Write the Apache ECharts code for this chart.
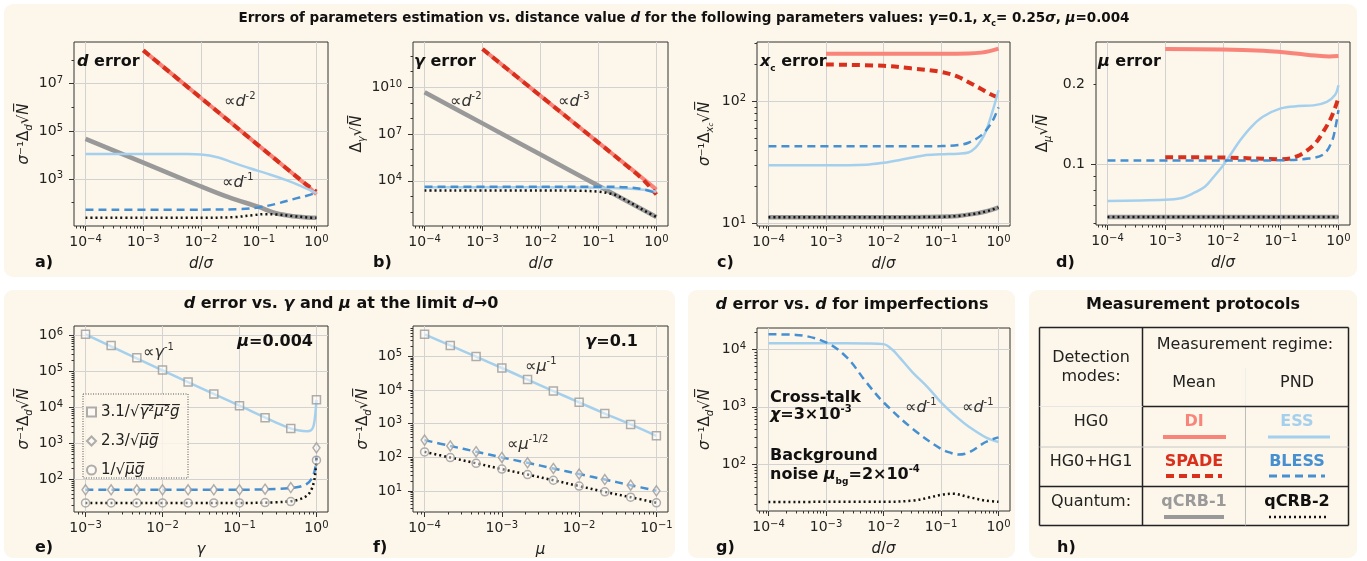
<!DOCTYPE html>
<html>
<head>
<meta charset="utf-8">
<script src="https://cdn.jsdelivr.net/npm/echarts@6/dist/echarts.min.js"></script>
<style>
html, body { margin: 0; padding: 0; background: #fff; }
#main { width: 1367px; height: 561px; }
</style>
</head>
<body>
<div id="main"></div>
<script>
// ---- values ----
// a) d error vs d/sigma
var aDI_x = [1e-3, 1e-2, 0.1, 0.3, 0.5, 0.7, 1];
var aDI_y = [2.5e8, 2.5e6, 2.5e4, 2800, 1000, 500, 224];
var aSPADE_y = [2.5e8, 2.5e6, 2.5e4, 2800, 1020, 530, 290];
var aQ1_x = [1e-4, 1e-3, 1e-2, 3e-2, 0.1, 0.2, 0.4, 0.7, 1];
var aQ1_y = [4.8e4, 4.8e3, 480, 170, 66, 36, 27, 24, 23];
var aQ2_x = [1e-4, 1e-2, 0.04, 0.08, 0.13, 0.2, 0.4, 0.7, 1];
var aQ2_y = [23, 23, 25, 30, 33, 32, 27, 24, 23];
var aESS_x = [1e-4, 1e-3, 5e-3, 1e-2, 2e-2, 0.036, 0.07, 0.14, 0.3, 0.53, 1];
var aESS_y = [11200, 11200, 11000, 10500, 7900, 4800, 2800, 1660, 890, 510, 250];
var aBLESS_x = [1e-4, 1e-2, 0.05, 0.1, 0.2, 0.4, 0.7, 1];
var aBLESS_y = [51, 51, 54, 63, 89, 141, 200, 263];

// b) gamma error
var bDI_x = [1e-3, 1e-2, 0.1, 0.3, 0.6, 1];
var bDI_y = [2.8e12, 2.8e9, 2.8e6, 1.05e5, 1.3e4, 2700];
var bSPADE_y = [2.8e12, 2.8e9, 2.8e6, 1.0e5, 1.1e4, 1300];
var bQ1_x = [1e-4, 1e-3, 1e-2, 0.1, 1];
var bQ1_y = [4.8e9, 4.8e7, 4.8e5, 4800, 48];
var bQ2_x = [1e-4, 1e-2, 0.05, 0.1, 0.15, 0.2, 0.3, 0.5, 0.7, 1];
var bQ2_y = [2400, 2400, 2290, 2000, 1580, 1200, 560, 190, 95, 48];
var bBL_x = [1e-4, 1e-2, 0.1, 0.3, 0.6, 1];
var bESS_y = [3800, 3800, 3630, 3160, 2630, 2000];
var bBLESS_y = [4170, 4170, 4170, 3800, 2820, 1580];

// c) x_c error
var cDI_x = [1e-3, 1e-2, 0.1, 0.3, 0.5, 0.7, 1];
var cDI_y = [245, 245, 245, 246, 250, 257, 270];
var cSPADE_x = [1e-3, 1e-2, 0.03, 0.1, 0.2, 0.32, 0.5, 0.7, 1];
var cSPADE_y = [200, 195, 186, 174, 158, 141, 126, 115, 107];
var cESS_x = [1e-4, 1e-3, 5e-3, 1e-2, 2e-2, 5e-2, 0.1, 0.2, 0.3, 0.4, 0.5, 0.6, 0.7, 0.85, 1];
var cESS_y = [29.9, 29.9, 30.2, 31.3, 33.1, 36.0, 36.7, 37.2, 38.0, 41.7, 47.9, 56.2, 69.2, 93.3, 123];
var cBLESS_x = [1e-4, 0.01, 0.1, 0.2, 0.3, 0.5, 0.7, 0.85, 1];
var cBLESS_y = [42.7, 42.7, 42.9, 43.7, 45.7, 52.5, 63.1, 74.1, 89.1];
var cQ_x = [1e-4, 0.01, 0.1, 0.2, 0.4, 0.6, 0.8, 1];
var cQ_y = [11.2, 11.2, 11.3, 11.5, 12.0, 12.5, 13.0, 13.5];

// d) mu error
var dDI_x = [1e-3, 1e-2, 0.05, 0.1, 0.2, 0.4, 0.7, 1];
var dDI_y = [0.272, 0.271, 0.268, 0.265, 0.261, 0.257, 0.255, 0.256];
var dESS_x = [1e-4, 1e-3, 1.85e-3, 2.9e-3, 4.9e-3, 6.6e-3, 9.7e-3, 0.014, 0.02, 0.031, 0.049, 0.1, 0.2, 0.37, 0.63, 0.87, 1];
var dESS_y = [0.0727, 0.0734, 0.0744, 0.0773, 0.0824, 0.0886, 0.098, 0.110, 0.1234, 0.1384, 0.151, 0.1624, 0.1657, 0.1667, 0.172, 0.1823, 0.1987];
var dSPADE_x = [1e-3, 1e-2, 0.1, 0.19, 0.37, 0.55, 0.77, 1];
var dSPADE_y = [0.1062, 0.106, 0.1045, 0.107, 0.118, 0.133, 0.152, 0.178];
var dBLESS_x = [1e-4, 1e-2, 0.1, 0.3, 0.55, 0.77, 0.9, 1];
var dBLESS_y = [0.1032, 0.1032, 0.1035, 0.105, 0.109, 0.122, 0.14, 0.16];
var dQ_x = [1e-4, 1];
var dQ_y = [0.0633, 0.0633];

// e) d error vs gamma, mu = 0.004
var eGam = [0.001, 0.00215, 0.00464, 0.01, 0.0215, 0.0464, 0.1, 0.215, 0.464, 1];
var eSq = [1.07e6, 5.2e5, 2.4e5, 1.1e5, 5.1e4, 2.35e4, 1.12e4, 5.2e3, 2.6e3, 1.64e4];
var eDia = [52, 52, 52, 52, 52, 52, 52, 54, 60, 760];
var eCirc = [22.4, 22.4, 22.4, 22.4, 22.4, 22.4, 22.4, 23, 24.5, 345];
var eESS_x = [1e-3, 1e-2, 0.1, 0.3, 0.46, 0.6, 0.75, 0.85, 0.92, 0.97, 1];
var eESS_y = [1.07e6, 1.07e5, 1.12e4, 3800, 2630, 2290, 2190, 2340, 3160, 7080, 16200];
var eBLESS_x = [1e-3, 0.1, 0.3, 0.46, 0.6, 0.75, 0.85, 0.95, 1];
var eBLESS_y = [52, 52, 55, 58, 63, 76, 100, 178, 447];
var eQ2_x = [1e-3, 0.1, 0.3, 0.46, 0.6, 0.75, 0.85, 0.93, 0.98, 1];
var eQ2_y = [22.4, 22.4, 23.4, 25.1, 28.2, 35.5, 50, 89, 200, 400];

// f) d error vs mu, gamma = 0.1
var fMu = [1e-4, 2.15e-4, 4.64e-4, 1e-3, 2.15e-3, 4.64e-3, 1e-2, 2.15e-2, 4.64e-2, 0.1];
var fSq = [4.5e5, 2.1e5, 9.8e4, 4.5e4, 2.05e4, 9.3e3, 4.3e3, 2.0e3, 955, 437];
var fDia = [326, 219, 148, 100, 69, 47, 32, 22, 15, 10.2];
var fCirc = [146, 99, 67, 45, 31, 21, 14.1, 9.5, 6.6, 4.5];

// g) imperfections
var gESS_x = [1e-4, 1e-3, 5e-3, 1e-2, 0.014, 0.019, 0.032, 0.06, 0.1, 0.2, 0.31, 0.6, 1];
var gESS_y = [12700, 12700, 12600, 12300, 10000, 7240, 3980, 2140, 1200, 630, 447, 295, 245];
var gBLESS_x = [1e-4, 3e-4, 1e-3, 2.3e-3, 5e-3, 1e-2, 0.032, 0.1, 0.15, 0.2, 0.31, 0.6, 1];
var gBLESS_y = [18200, 17800, 13200, 7240, 2690, 1200, 417, 186, 158, 148, 162, 245, 295];
var gQ2_x = [1e-4, 1e-2, 0.032, 0.06, 0.1, 0.16, 0.31, 0.6, 1];
var gQ2_y = [22.3, 22.4, 23.4, 26.3, 29.5, 30.9, 26.9, 23.4, 22.4];

// tick labels
var decX4 = [1e-4, 1e-3, 1e-2, 1e-1, 1];
var legendNames = ['3.1/√(γ²μ²g)', '2.3/√(μg)', '1/√(μg)'];

var FONT = 'DejaVu Sans';
var myChart = echarts.init(document.getElementById('main'));

function pow10Label(v) {
    return '{b|10}{s|' + String(Math.round(Math.log10(v))).replace('-', '−') + '}';
}
function decades(a, b) { var r = []; for (var e = a; e <= b; e++) r.push(Math.pow(10, e)); return r; }
function minorLog(lo, hi) {
    var r = [];
    for (var e = Math.floor(lo) - 1; e <= Math.ceil(hi); e++) {
        for (var k = 2; k <= 9; k++) {
            var v = k * Math.pow(10, e), l = Math.log10(v);
            if (l > lo && l < hi) r.push(v);
        }
    }
    return r;
}
function zip(xs, ys) { return xs.map(function (x, i) { return [x, ys[i]]; }); }

var TICKRICH = {
    b: {fontFamily: FONT, fontSize: 14, lineHeight: 16, color: '#222'},
    s: {fontFamily: FONT, fontSize: 10, lineHeight: 9, verticalAlign: 'top', color: '#222'}
};
var AXRICH = {
    i: {fontFamily: FONT, fontStyle: 'italic', fontSize: 15, lineHeight: 20, color: '#222'},
    r: {fontFamily: FONT, fontSize: 15, lineHeight: 20, color: '#222'},
    sb: {fontFamily: FONT, fontStyle: 'italic', fontSize: 10, lineHeight: 10, verticalAlign: 'bottom', color: '#222'},
    ssb: {fontFamily: FONT, fontStyle: 'italic', fontSize: 7, lineHeight: 7, verticalAlign: 'bottom', color: '#222'}
};

// grids: a b c d / e f g
var grids = [
    {left: 74, top: 42, width: 254, height: 184},
    {left: 413, top: 42, width: 255, height: 184},
    {left: 757, top: 42, width: 253, height: 184},
    {left: 1096, top: 42, width: 254, height: 183},
    {left: 74, top: 326, width: 254, height: 186},
    {left: 413, top: 326, width: 255, height: 186},
    {left: 757, top: 328, width: 253, height: 183}
].map(function (g) {
    return Object.assign({show: true, borderColor: '#333', borderWidth: 1, backgroundColor: 'transparent',
        containLabel: false, outerBoundsMode: 'none'}, g);
});

var xAxes = [], yAxes = [];
function addAxis(list, dim, gi, lo, hi, major, labels, minor, name, gap, fmt) {
    var common = {type: 'log', logBase: 10, gridIndex: gi, min: Math.pow(10, lo), max: Math.pow(10, hi),
        position: dim === 'x' ? 'bottom' : 'left'};
    list.push(Object.assign({}, common, {
        axisLine: {show: false},
        axisTick: {show: true, customValues: major, length: 5, lineStyle: {color: '#333'}},
        axisLabel: {customValues: labels, formatter: fmt || pow10Label, fontFamily: FONT, fontSize: 14, color: '#222',
            margin: dim === 'x' ? 8 : 11, rich: TICKRICH},
        splitLine: {show: true, lineStyle: {color: '#d2d2d2', width: 1}},
        name: name, nameLocation: 'middle', nameGap: gap, nameRotate: dim === 'y' ? 90 : 0,
        nameTextStyle: {fontFamily: FONT, fontSize: 15, color: '#222', rich: AXRICH}
    }));
    list.push(Object.assign({}, common, {
        axisLine: {show: false},
        axisTick: {show: true, customValues: minor, length: 2.5, lineStyle: {color: '#333'}},
        axisLabel: {show: false},
        splitLine: {show: false}
    }));
}
var XN = '{i|d}{r|/}{i|σ}';
var YD = '{i|σ}{r|⁻¹Δ}{sb|d}{r|√}{i|N̅}';

// a
addAxis(xAxes, 'x', 0, -4.2, 0.2, decX4, decX4, minorLog(-4.2, 0.2), XN, 28);
addAxis(yAxes, 'y', 0, 1.02, 8.75, [1e1, 1e3, 1e5, 1e7], [1e3, 1e5, 1e7], [1e2, 1e4, 1e6, 1e8], YD, 40);
// b
addAxis(xAxes, 'x', 1, -4.2, 0.2, decX4, decX4, minorLog(-4.2, 0.2), XN, 28);
addAxis(yAxes, 'y', 1, 1.1, 12.9, [1e4, 1e7, 1e10], [1e4, 1e7, 1e10], [1e2, 1e3, 1e5, 1e6, 1e8, 1e9, 1e11, 1e12], '{r|Δ}{sb|γ}{r|√}{i|N̅}', 44);
// c
addAxis(xAxes, 'x', 2, -4.2, 0.2, decX4, decX4, minorLog(-4.2, 0.2), XN, 28);
addAxis(yAxes, 'y', 2, 0.978, 2.485, [10, 100], [10, 100], minorLog(0.978, 2.485), '{i|σ}{r|⁻¹Δ}{sb|x}{ssb|c}{r|√}{i|N̅}', 42);
// d
addAxis(xAxes, 'x', 3, -4.2, 0.2, decX4, decX4, minorLog(-4.2, 0.2), XN, 28);
addAxis(yAxes, 'y', 3, Math.log10(0.059), Math.log10(0.289), [0.1], [0.1, 0.2], minorLog(Math.log10(0.059), Math.log10(0.289)),
    '{r|Δ}{sb|μ}{r|√}{i|N̅}', 43, function (v) { return '{b|' + v.toFixed(1) + '}'; });
// e
addAxis(xAxes, 'x', 4, -3.15, 0.15, decades(-3, 0), decades(-3, 0), minorLog(-3.15, 0.15), '{i|γ}', 28);
addAxis(yAxes, 'y', 4, 1.1, 6.26, decades(2, 6), decades(2, 6), minorLog(1.1, 6.26), YD, 40);
// f
addAxis(xAxes, 'x', 5, -4.15, -0.85, decades(-4, -1), decades(-4, -1), minorLog(-4.15, -0.85), '{i|μ}', 28);
addAxis(yAxes, 'y', 5, 0.38, 5.9, decades(1, 5), decades(1, 5), minorLog(0.38, 5.9), YD, 40);
// g
addAxis(xAxes, 'x', 6, -4.2, 0.2, decX4, decX4, minorLog(-4.2, 0.2), XN, 28);
addAxis(yAxes, 'y', 6, 1.19, 4.37, decades(2, 4), decades(2, 4), minorLog(1.19, 4.37), YD, 42);

var ST = {
    DI: {color: '#f8847a', width: 4, type: 'solid'},
    SPADE: {color: '#d8301c', width: 4, type: [8, 5]},
    ESS: {color: '#a4d0ee', width: 2.5, type: 'solid'},
    BLESS: {color: '#4690d2', width: 2.5, type: [8, 5]},
    Q1: {color: '#999999', width: 4.5, type: 'solid'},
    Q2: {color: '#111111', width: 2.5, type: [2, 3]}
};
var series = [];
function line(gi, xs, ys, st, z) {
    series.push({type: 'line', xAxisIndex: 2 * gi, yAxisIndex: 2 * gi, data: zip(xs, ys), showSymbol: false, symbol: 'none',
        smooth: 0.35, lineStyle: ST[st], z: z || 2, silent: true});
}
function marks(gi, xs, ys, name, sym, size) {
    series.push({type: 'scatter', name: name, xAxisIndex: 2 * gi, yAxisIndex: 2 * gi, data: zip(xs, ys), symbol: sym,
        symbolSize: size, itemStyle: {color: 'rgba(255,255,255,0.55)', borderColor: '#9a9a9a', borderWidth: 1.5}, z: 5, silent: true});
}

line(0, aQ1_x, aQ1_y, 'Q1'); line(0, aDI_x, aDI_y, 'DI'); line(0, aDI_x, aSPADE_y, 'SPADE');
line(0, aESS_x, aESS_y, 'ESS'); line(0, aBLESS_x, aBLESS_y, 'BLESS'); line(0, aQ2_x, aQ2_y, 'Q2');

line(1, bQ1_x, bQ1_y, 'Q1'); line(1, bDI_x, bDI_y, 'DI'); line(1, bDI_x, bSPADE_y, 'SPADE');
line(1, bBL_x, bESS_y, 'ESS'); line(1, bBL_x, bBLESS_y, 'BLESS'); line(1, bQ2_x, bQ2_y, 'Q2');

line(2, cQ_x, cQ_y, 'Q1'); line(2, cDI_x, cDI_y, 'DI'); line(2, cSPADE_x, cSPADE_y, 'SPADE');
line(2, cESS_x, cESS_y, 'ESS'); line(2, cBLESS_x, cBLESS_y, 'BLESS'); line(2, cQ_x, cQ_y, 'Q2');

line(3, dQ_x, dQ_y, 'Q1'); line(3, dDI_x, dDI_y, 'DI'); line(3, dSPADE_x, dSPADE_y, 'SPADE');
line(3, dESS_x, dESS_y, 'ESS'); line(3, dBLESS_x, dBLESS_y, 'BLESS'); line(3, dQ_x, dQ_y, 'Q2');

line(4, eESS_x, eESS_y, 'ESS'); line(4, eBLESS_x, eBLESS_y, 'BLESS'); line(4, eQ2_x, eQ2_y, 'Q2');
marks(4, eGam, eSq, legendNames[0], 'rect', 8); marks(4, eGam, eDia, legendNames[1], 'diamond', [7, 10]);
marks(4, eGam, eCirc, legendNames[2], 'circle', 8);

line(5, fMu, fSq, 'ESS'); line(5, fMu, fDia, 'BLESS'); line(5, fMu, fCirc, 'Q2');
marks(5, fMu, fSq, legendNames[0], 'rect', 8); marks(5, fMu, fDia, legendNames[1], 'diamond', [7, 10]);
marks(5, fMu, fCirc, legendNames[2], 'circle', 8);

line(6, gESS_x, gESS_y, 'ESS'); line(6, gBLESS_x, gBLESS_y, 'BLESS'); line(6, gQ2_x, gQ2_y, 'Q2');

// text helpers
function R(size) {
    return {
        b: {fontFamily: FONT, fontWeight: 'bold', fontSize: size, lineHeight: size + 6, fill: '#111'},
        bi: {fontFamily: FONT, fontWeight: 'bold', fontStyle: 'italic', fontSize: size, lineHeight: size + 6, fill: '#111'},
        bs: {fontFamily: FONT, fontWeight: 'bold', fontSize: Math.round(size * 0.62), lineHeight: Math.round(size * 0.62), verticalAlign: 'top', fill: '#111'},
        bsub: {fontFamily: FONT, fontWeight: 'bold', fontSize: Math.round(size * 0.58), lineHeight: Math.round(size * 0.58), verticalAlign: 'bottom', fill: '#111'},
        r: {fontFamily: FONT, fontSize: size, lineHeight: size + 6, fill: '#333'},
        i: {fontFamily: FONT, fontStyle: 'italic', fontSize: size, lineHeight: size + 6, fill: '#333'},
        s: {fontFamily: FONT, fontSize: Math.round(size * 0.62), lineHeight: Math.round(size * 0.62), verticalAlign: 'top', fill: '#333'}
    };
}
function txt(x, y, text, size, align, fill, weight) {
    return {type: 'text', x: x, y: y, z: 50, silent: true, style: {text: text, rich: R(size),
        font: (weight || 'normal') + ' ' + size + 'px "DejaVu Sans"', fill: fill || '#222',
        textAlign: align || 'left', textVerticalAlign: 'middle'}};
}
function hl(x1, y1, x2, y2, color, w, dash) {
    return {type: 'line', z: 40, silent: true, shape: {x1: x1, y1: y1, x2: x2, y2: y2},
        style: {stroke: color, lineWidth: w, lineDash: dash || null}};
}
function panel(x, y, w, h) {
    return {type: 'rect', z: -10, silent: true, shape: {x: x, y: y, width: w, height: h, r: 9}, style: {fill: '#fdf6ea'}};
}

var graphics = [
    panel(4, 4, 1353, 273), panel(4, 290, 671, 268), panel(688, 290, 327, 268), panel(1029, 290, 328, 268),
    txt(684, 18, '{b|Errors of parameters estimation vs. distance value }{bi|d}{b| for the following parameters values: }{bi|γ}{b|=0.1, }{bi|x}{bsub|c}{b|= 0.25}{bi|σ}{b|, }{bi|μ}{b|=0.004}', 13.5, 'center'),
    txt(341, 304, '{bi|d}{b| error vs. }{bi|γ}{b| and }{bi|μ}{b| at the limit }{bi|d}{b|→0}', 16, 'center'),
    txt(852, 305, '{bi|d}{b| error vs. }{bi|d}{b| for imperfections}', 16, 'center'),
    txt(1193, 305, '{b|Measurement protocols}', 16, 'center'),
    // panel annotations
    txt(77, 62, '{bi|d}{b| error}', 16), txt(414, 62, '{bi|γ}{b| error}', 16),
    txt(760, 62, '{bi|x}{bsub|c}{b| error}', 16), txt(1098, 62, '{bi|μ}{b| error}', 16),
    txt(224, 102, '{r|∝}{i|d}{s|-2}', 16), txt(222, 183, '{r|∝}{i|d}{s|-1}', 16),
    txt(450, 102, '{r|∝}{i|d}{s|-2}', 16), txt(558, 102, '{r|∝}{i|d}{s|-3}', 16),
    txt(143, 353, '{r|∝}{i|γ}{s|-1}', 16), txt(313, 342, '{bi|μ}{b|=0.004}', 16, 'right'),
    txt(638, 342, '{bi|γ}{b|=0.1}', 16, 'right'),
    txt(525, 367, '{r|∝}{i|μ}{s|-1}', 16), txt(507, 445, '{r|∝}{i|μ}{s|-1/2}', 16),
    txt(770, 398, '{b|Cross-talk}', 16), txt(770, 415, '{bi|χ}{b|=3×10}{bs|-3}', 16),
    txt(770, 456, '{b|Background}', 16), txt(770, 475, '{b|noise }{bi|μ}{bsub|bg}{b|=2×10}{bs|-4}', 16),
    txt(905, 408, '{r|∝}{i|d}{s|-1}', 16), txt(962, 408, '{r|∝}{i|d}{s|-1}', 16),
    // panel letters
    txt(35, 263, '{b|a)}', 16), txt(373, 263, '{b|b)}', 16), txt(717, 263, '{b|c)}', 16), txt(1056, 263, '{b|d)}', 16),
    txt(35, 548, '{b|e)}', 16), txt(373, 548, '{b|f)}', 16), txt(716, 548, '{b|g)}', 16), txt(1057, 548, '{b|h)}', 16),
    // legend box of e)
    {type: 'rect', z: 3, silent: true, shape: {x: 83, y: 394, width: 105, height: 84},
        style: {fill: 'rgba(253,246,234,0.85)', stroke: '#555', lineWidth: 1, lineDash: [1, 1.5]}},
    // protocol table h)
    hl(1039.5, 327.5, 1348.5, 327.5, '#222', 1.5), hl(1039.5, 525.5, 1348.5, 525.5, '#222', 1.5),
    hl(1039.5, 327.5, 1039.5, 525.5, '#222', 1.5), hl(1348.5, 327.5, 1348.5, 525.5, '#222', 1.5),
    hl(1142.5, 327.5, 1142.5, 525.5, '#222', 1.5),
    hl(1245.5, 368, 1245.5, 406.5, '#eee', 1), hl(1245.5, 406.5, 1245.5, 525.5, '#bdbdbd', 1),
    hl(1142.5, 406.5, 1348.5, 406.5, '#222', 1.5), hl(1039.5, 406.5, 1142.5, 406.5, '#e6e6e6', 1),
    hl(1039.5, 447, 1348.5, 447, '#c8c8c8', 1), hl(1039.5, 486.5, 1348.5, 486.5, '#222', 1.5),
    txt(1091, 358, 'Detection', 16, 'center'), txt(1091, 377, 'modes:', 16, 'center'),
    txt(1245, 345, 'Measurement regime:', 16, 'center'),
    txt(1194, 383, 'Mean', 16, 'center'), txt(1297, 383, 'PND', 16, 'center'),
    txt(1091, 422, 'HG0', 16, 'center'), txt(1091, 462, 'HG0+HG1', 16, 'center'), txt(1091, 502, 'Quantum:', 16, 'center'),
    txt(1194, 422, 'DI', 16, 'center', ST.DI.color, 'bold'), txt(1297, 422, 'ESS', 16, 'center', ST.ESS.color, 'bold'),
    txt(1194, 462, 'SPADE', 16, 'center', ST.SPADE.color, 'bold'), txt(1297, 462, 'BLESS', 16, 'center', ST.BLESS.color, 'bold'),
    txt(1194, 502, 'qCRB-1', 16, 'center', '#9a9a9a', 'bold'), txt(1297, 502, 'qCRB-2', 16, 'center', '#111', 'bold'),
    hl(1163, 437, 1226, 437, ST.DI.color, 4), hl(1268, 437, 1330, 437, ST.ESS.color, 3),
    hl(1166, 476, 1222, 476, ST.SPADE.color, 4, [8, 5]), hl(1269, 476, 1325, 476, ST.BLESS.color, 3, [8, 5]),
    hl(1164, 517, 1224, 517, '#999', 4), hl(1269, 517, 1328, 517, '#111', 2.5, [2, 3])
];

var LEGRICH = {
    r: {fontFamily: FONT, fontSize: 15, lineHeight: 22, color: '#222'},
    i: {fontFamily: FONT, fontStyle: 'italic', fontSize: 15, lineHeight: 22, color: '#222'}
};
var legendText = {};
legendText[legendNames[0]] = '{r|3.1/√}{i|γ̅}{r|²̅}{i|μ̅}{r|²̅}{i|g̅}';
legendText[legendNames[1]] = '{r|2.3/√}{i|μ̅g̅}';
legendText[legendNames[2]] = '{r|1/√}{i|μ̅g̅}';

var option = {
    animation: false,
    backgroundColor: '#fff',
    textStyle: {fontFamily: FONT},
    grid: grids,
    xAxis: xAxes,
    yAxis: yAxes,
    legend: {
        data: legendNames, left: 84, top: 399, orient: 'vertical', itemWidth: 9, itemHeight: 9, itemGap: 7,
        padding: [2, 4, 2, 2], selectedMode: false, z: 6,
        formatter: function (n) { return legendText[n]; },
        textStyle: {fontFamily: FONT, fontSize: 15, lineHeight: 22, color: '#222', rich: LEGRICH}
    },
    graphic: {elements: graphics},
    series: series
};

myChart.setOption(option);
</script>
</body>
</html>
